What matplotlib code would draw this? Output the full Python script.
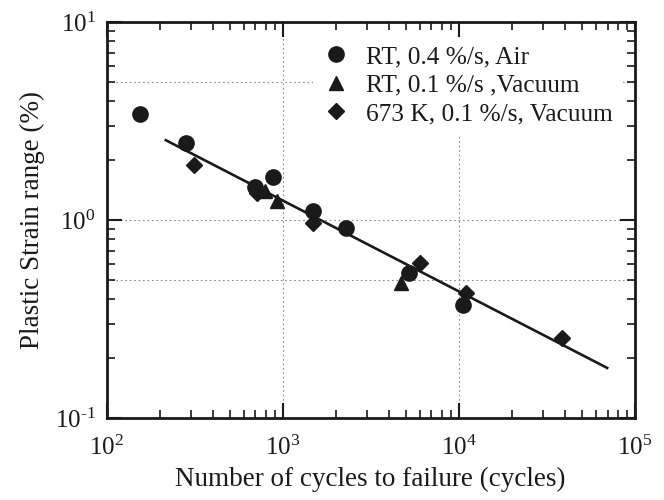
import matplotlib
matplotlib.use("Agg")
import matplotlib.pyplot as plt
from matplotlib.ticker import LogLocator, FixedLocator, FixedFormatter, NullFormatter

plt.rcParams['font.family'] = ['Liberation Serif', 'DejaVu Serif']
plt.rcParams['mathtext.fontset'] = 'custom'
plt.rcParams['mathtext.rm'] = 'Liberation Serif'
plt.rcParams['mathtext.it'] = 'Liberation Serif:italic'

# --- data (cycles to failure, plastic strain range %) ---
air_N = [154, 281, 693, 877, 1493, 2300, 5240, 10520]
air_eps = [3.44, 2.44, 1.47, 1.65, 1.11, 0.915, 0.542, 0.373]

vac_N = [799, 929, 4720]
vac_eps = [1.40, 1.25, 0.483]

hot_N = [312, 718, 1486, 5990, 11000, 38600]
hot_eps = [1.90, 1.37, 0.962, 0.605, 0.427, 0.253]

fit_N = [217, 69700]
fit_eps = [2.53, 0.179]

labels = ['RT, 0.4 %/s, Air', 'RT, 0.1 %/s ,Vacuum', '673 K, 0.1 %/s, Vacuum']

x_ticks = [1e2, 1e3, 1e4, 1e5]
x_ticklabels = [r'$10^{2}$', r'$10^{3}$', r'$10^{4}$', r'$10^{5}$']
y_ticks = [1e-1, 1e0, 1e1]
y_ticklabels = [r'$10^{\text{-}1}$', r'$10^{0}$', r'$10^{1}$']
x_grid = [1e3, 1e4]
y_grid = [0.5, 1.0, 5.0]

fig = plt.figure(figsize=(6.64, 5.0), dpi=100)
ax = fig.add_axes([0.1605, 0.164, 0.7955, 0.792])
ax.set_xscale('log')
ax.set_yscale('log')
ax.set_xlim(1e2, 1e5)
ax.set_ylim(1e-1, 1e1)

for g in x_grid:
    ax.axvline(g, color='#888888', lw=0.8, ls=(0, (1.5, 2.5)), zorder=0)
for g in y_grid:
    ax.axhline(g, color='#888888', lw=0.8, ls=(0, (1.5, 2.5)), zorder=0)

ax.plot(fit_N, fit_eps, color='#1a1a1a', lw=1.9, zorder=2)
ax.plot(air_N, air_eps, 'o', color='#1a1a1a', ms=11, ls='none', label=labels[0], zorder=3)
ax.plot(vac_N, vac_eps, '^', color='#1a1a1a', ms=10, ls='none', label=labels[1], zorder=3)
ax.plot(hot_N, hot_eps, 'D', color='#1a1a1a', ms=8.5, ls='none', label=labels[2], zorder=3)

ax.xaxis.set_major_locator(FixedLocator(x_ticks))
ax.xaxis.set_major_formatter(FixedFormatter(x_ticklabels))
ax.yaxis.set_major_locator(FixedLocator(y_ticks))
ax.yaxis.set_major_formatter(FixedFormatter(y_ticklabels))
ax.xaxis.set_minor_locator(LogLocator(base=10, subs=range(2, 10)))
ax.yaxis.set_minor_locator(LogLocator(base=10, subs=range(2, 10)))
ax.xaxis.set_minor_formatter(NullFormatter())
ax.yaxis.set_minor_formatter(NullFormatter())

ax.tick_params(which='both', direction='in', top=True, right=True, colors='#1a1a1a',
               labelsize=18)
ax.tick_params(axis='x', which='both', pad=13)
ax.tick_params(axis='y', which='both', pad=8)
ax.tick_params(which='major', length=11, width=1.5)
ax.tick_params(which='minor', length=6, width=1.2)
for s in ax.spines.values():
    s.set_linewidth(2.0)
    s.set_color('#1a1a1a')

ax.set_xlabel('Number of cycles to failure (cycles)', fontsize=19.5, color='#1a1a1a', labelpad=5)
ax.set_ylabel('Plastic Strain range (%)', fontsize=19.5, color='#1a1a1a', labelpad=7)

leg = ax.legend(loc='upper left', bbox_to_anchor=(0.391, 0.967), borderaxespad=0,
                fontsize=18.3, frameon=True, fancybox=False, edgecolor='none',
                facecolor='white', framealpha=1, handlelength=1.0, handletextpad=0.7,
                labelspacing=0.23, borderpad=0.4, numpoints=1)
leg.set_zorder(1)
for t in leg.get_texts():
    t.set_color('#1a1a1a')

fig.savefig('out.png', dpi=100)
